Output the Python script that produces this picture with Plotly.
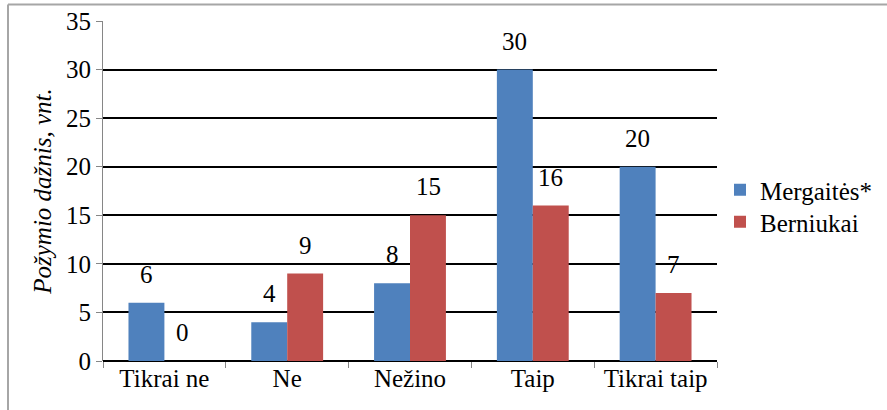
import plotly.graph_objects as go

categories = ["Tikrai ne", "Ne", "Nežino", "Taip", "Tikrai taip"]
mergaites = [6, 4, 8, 30, 20]
berniukai = [0, 9, 15, 16, 7]
series_names = ["Mergaitės*", "Berniukai"]
y_ticks = [0, 5, 10, 15, 20, 25, 30, 35]
y_title = "Požymio dažnis, vnt."

BLUE = "#4F81BD"
RED = "#C0504D"
FONT = "Liberation Serif"
FS = 25

W, H = 887, 410
ML, MR, MT, MB = 103, 170, 21, 49
PW = W - ML - MR
PH = H - MT - MB


def fnt():
    return dict(family=FONT, size=FS, color="#000000")


fig = go.Figure()
fig.add_trace(go.Bar(x=categories, y=mergaites, name=series_names[0], legend="legend",
                     marker=dict(color=BLUE, line=dict(width=0))))
fig.add_trace(go.Bar(x=categories, y=berniukai, name=series_names[1], legend="legend2",
                     marker=dict(color=RED, line=dict(width=0))))

annotations = []
for vals, shift in ((mergaites, -18), (berniukai, 18)):
    for c, v in zip(categories, vals):
        annotations.append(dict(x=c, y=v, xref="x", yref="y", text=str(v),
                                showarrow=False, yanchor="bottom", xanchor="center",
                                xshift=shift, yshift=13, font=fnt()))

px = lambda p: (p - ML) / PW
py = lambda p: (H - MB - p) / PH
shapes = [
    dict(type="line", xref="paper", yref="paper", x0=px(8), x1=px(W + 5), y0=py(4.5), y1=py(4.5),
         line=dict(color="#A6A6A6", width=2)),
    dict(type="line", xref="paper", yref="paper", x0=px(8), x1=px(8), y0=py(4.5), y1=py(H + 5),
         line=dict(color="#A6A6A6", width=2)),
]

legend_common = dict(xanchor="left", yanchor="top", font=fnt(),
                     bgcolor="rgba(0,0,0,0)", borderwidth=0, tracegroupgap=0)

fig.update_layout(
    template="none",
    width=W, height=H,
    margin=dict(l=ML, r=MR, t=MT, b=MB, pad=0, autoexpand=False),
    paper_bgcolor="white", plot_bgcolor="white",
    barmode="group", bargap=0.415, bargroupgap=0,
    showlegend=True,
    legend=dict(x=px(720), y=py(167), **legend_common),
    legend2=dict(x=px(720), y=py(199), **legend_common),
    annotations=annotations,
    shapes=shapes,
)
fig.update_xaxes(type="category", showgrid=False, showline=False, zeroline=False,
                 ticks="outside", tickson="boundaries", ticklen=6, tickcolor="#868686",
                 tickwidth=1, tickfont=fnt())
fig.update_yaxes(range=[0, 35], tickvals=y_ticks, showgrid=True, gridcolor="#000000",
                 gridwidth=1.6, zeroline=True, zerolinecolor="#000000", zerolinewidth=2,
                 showline=True, linecolor="#868686", linewidth=1,
                 ticks="outside", ticklen=6, tickcolor="#868686", tickwidth=1,
                 tickfont=fnt(),
                 title=dict(text="<i>" + y_title + "</i>", standoff=7, font=fnt()))

fig.write_html("out.html", config={"displayModeBar": False},
               post_script="document.body.style.margin='0';")
